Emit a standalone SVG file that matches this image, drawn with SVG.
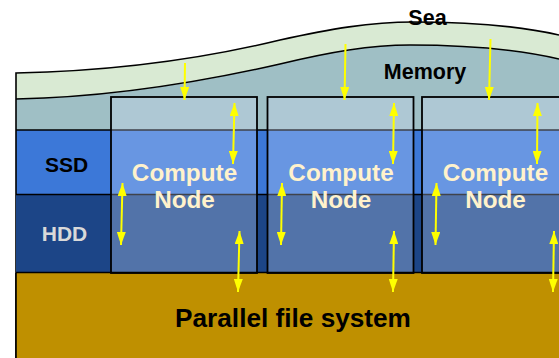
<svg xmlns="http://www.w3.org/2000/svg" width="559" height="358" viewBox="0 0 559 358">
<defs>
<marker id="head" markerUnits="userSpaceOnUse" markerWidth="13" markerHeight="9" refX="13" refY="4.500" orient="auto-start-reverse" viewBox="0 0 13 9"><path d="M0 0L13 4.500L0 9Z" fill="#ffff00"/></marker>
</defs>
<style>
.lbl{font-family:"Liberation Sans",Arial,sans-serif;font-weight:bold;text-anchor:middle}
.edge{fill:none;stroke:#000;stroke-width:1.6}
.node{fill:#cfdffa;fill-opacity:.3;stroke:#000;stroke-width:1.800}
.cn{font-size:24.300px;fill:#fff2cc}
.arr{stroke:#ffff00;stroke-width:2;fill:none;marker-end:url(#head)}
.dbl{marker-start:url(#head)}
</style>
<g id="memory">
<path d="M16 99C120 97 210 80 280 64C330 52 370 45 410 45C470 45 520 50 559 59V130H16Z" fill="#9fbfc5"/>
<text class="lbl" x="425" y="79" font-size="21.500">Memory</text>
</g>
<g id="sea">
<path d="M16 73C120 71 210 57 280 40C330 29 370 22 413 22C470 22 520 26 559 35V59C520 50 470 45 410 45C370 45 330 52 280 64C210 80 120 97 16 99Z" fill="#d9ead3"/>
<path class="edge" d="M16 99V73C120 71 210 57 280 40C330 29 370 22 413 22C470 22 520 26 559 35"/>
<path class="edge" d="M16 99C120 97 210 80 280 64C330 52 370 45 410 45C470 45 520 50 559 59"/>
<text class="lbl" x="427.500" y="25" font-size="21.500">Sea</text>
</g>
<g id="ssd">
<rect x="16" y="130" width="543" height="64" fill="#3c78d8"/>
<path class="edge" d="M16 99V358M16 130H559"/>
<text class="lbl" x="66.500" y="172" font-size="21">SSD</text>
</g>
<g id="hdd">
<rect x="16" y="194.500" width="543" height="78" fill="#1c4587"/>
<path class="edge" d="M16 194.500H559"/>
<text class="lbl" x="64.500" y="241" font-size="21" fill="#d9d9d9">HDD</text>
</g>
<g id="pfs">
<rect x="16" y="273" width="543" height="85" fill="#bf9000"/>
<path class="edge" d="M16 273V358"/>
<text class="lbl" x="293" y="327" font-size="26.200">Parallel file system</text>
</g>
<g id="node1">
<rect class="node" x="111" y="97" width="146" height="176"/>
<text class="lbl cn" x="184.500" y="181">Compute</text>
<text class="lbl cn" x="184.500" y="208">Node</text>
</g>
<g id="node2">
<rect class="node" x="267.500" y="97" width="146" height="176"/>
<text class="lbl cn" x="341" y="181">Compute</text>
<text class="lbl cn" x="341" y="208">Node</text>
</g>
<g id="node3">
<rect class="node" x="422" y="97" width="146" height="176"/>
<text class="lbl cn" x="495.500" y="181">Compute</text>
<text class="lbl cn" x="495.500" y="208">Node</text>
</g>
<path d="M16 272.500H559" class="edge"/>
<g id="connectors">
<path class="arr" d="M185 63L184.500 100"/>
<path class="arr" d="M345.500 44L344.500 100"/>
<path class="arr" d="M490.500 39L489 100"/>
<path class="arr dbl" d="M234.500 103L233 164"/>
<path class="arr dbl" d="M394 103L393 164"/>
<path class="arr dbl" d="M537.500 103L537 164"/>
<path class="arr dbl" d="M122.500 183L121 245"/>
<path class="arr dbl" d="M282 183L281 245"/>
<path class="arr dbl" d="M436.500 183L435.500 245"/>
<path class="arr dbl" d="M239.500 231L238 292"/>
<path class="arr dbl" d="M394 231L393 292"/>
<path class="arr dbl" d="M554 231L553 292"/>
</g>
</svg>
